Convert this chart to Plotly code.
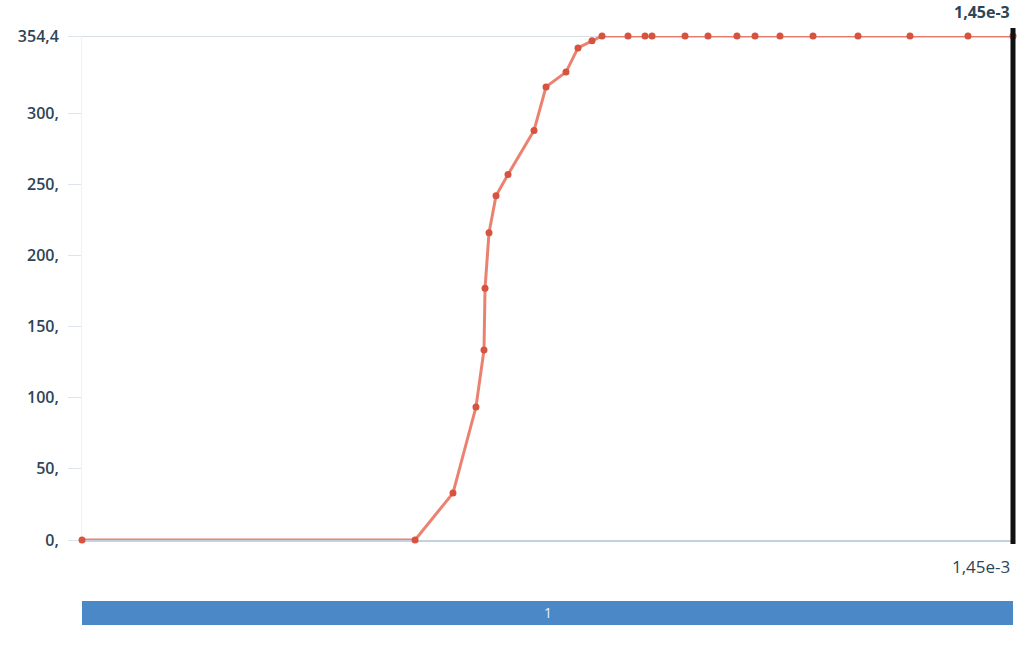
import plotly.graph_objects as go

# Curve samples: time (s) vs. value
x_vals = [0.0, 0.5187e-3, 0.5778e-3, 0.6136e-3, 0.6261e-3, 0.6277e-3, 0.6339e-3,
          0.6448e-3, 0.6635e-3, 0.7040e-3, 0.7227e-3, 0.7538e-3, 0.7725e-3,
          0.7943e-3, 0.8099e-3, 0.8504e-3, 0.8769e-3, 0.8878e-3, 0.9392e-3,
          0.9750e-3, 1.0201e-3, 1.0482e-3, 1.0871e-3, 1.1385e-3, 1.2086e-3,
          1.2896e-3, 1.3799e-3, 1.45e-3]
y_vals = [0.0, 0.0, 33.0, 93.5, 133.6, 177.0, 216.0,
          242.0, 257.0, 288.0, 318.6, 329.0, 346.0,
          351.0, 354.4, 354.4, 354.4, 354.4, 354.4,
          354.4, 354.4, 354.4, 354.4, 354.4, 354.4,
          354.4, 354.4, 354.4]

y_ticks = [0, 50, 100, 150, 200, 250, 300, 354.4]
y_tick_text = ["0,", "50,", "100,", "150,", "200,", "250,", "300,", "354,4"]
x_max = 1.45e-3
x_max_label = "1,45e-3"
y_max = 354.4
band_label = "1"

FONT = "Open Sans"
TEXT = "#2d4557"

fig = go.Figure()
fig.add_trace(go.Scatter(
    x=x_vals, y=y_vals, mode="lines+markers",
    line=dict(color="rgba(232,108,88,0.85)", width=3),
    marker=dict(color="#d5533f", size=7),
    cliponaxis=False,
    hoverinfo="skip", showlegend=False,
))

# top reference line at the maximum value, kept under the curve
fig.add_shape(type="line", xref="paper", yref="y", x0=-0.012, x1=1, y0=y_max, y1=y_max,
              line=dict(color="#c9d3de", width=1.5), layer="below")
# cursor line at the end of the range (x_max is the right edge of the axis range)
fig.add_shape(type="line", xref="paper", yref="paper", x0=1, x1=1, y0=-0.008, y1=1.016,
              line=dict(color="#111111", width=5))
# band below the plot
fig.add_shape(type="rect", xref="paper", yref="paper", x0=0, x1=1, y0=-0.1687, y1=-0.121,
              fillcolor="#4b88c8", line=dict(width=0), layer="below")
fig.add_annotation(xref="paper", yref="paper", x=0.5, y=-0.143, text=band_label,
                   showarrow=False, yanchor="middle",
                   font=dict(family=FONT, size=14, color="#e8eef5"))

fig.add_annotation(xref="x", yref="paper", x=x_max, y=1.0476, text=x_max_label,
                   showarrow=False, xanchor="right", yanchor="middle", xshift=-1,
                   font=dict(family=FONT, size=16, color=TEXT, weight=700))
fig.add_annotation(xref="x", yref="paper", x=x_max, y=-0.0516, text=x_max_label,
                   showarrow=False, xanchor="right", yanchor="middle", xshift=-1,
                   font=dict(family=FONT, size=17, color=TEXT, weight=500))

fig.update_layout(
    width=1023, height=651,
    margin=dict(l=82, r=10, t=36, b=111),
    paper_bgcolor="white", plot_bgcolor="white",
    font=dict(family=FONT, size=16, color=TEXT),
    xaxis=dict(range=[0, x_max], showgrid=False, zeroline=False, showticklabels=False,
               showline=True, linecolor="#c3d2e0", linewidth=2, mirror=False, ticks="",
               layer="below traces"),
    yaxis=dict(range=[0, y_max], tickvals=y_ticks, ticktext=y_tick_text,
               showgrid=False, zeroline=False, showline=True, linecolor="#eef2f6",
               linewidth=1, ticks="outside", ticklen=13, tickcolor="#dde4ec",
               ticklabelstandoff=6, layer="below traces",
               tickfont=dict(family=FONT, size=16, color=TEXT, weight=600)),
)

fig.write_html("out.html")
